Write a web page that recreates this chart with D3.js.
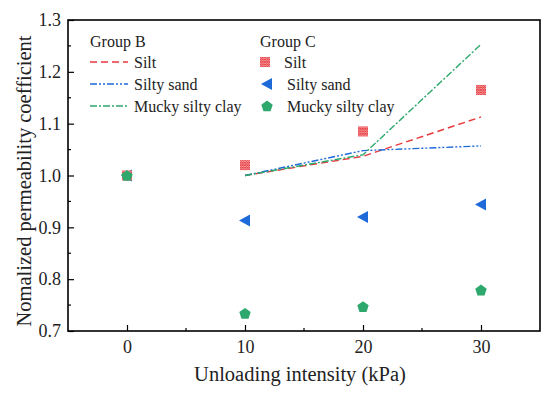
<!DOCTYPE html>
<html>
<head>
<meta charset="utf-8">
<script src="https://cdn.jsdelivr.net/npm/d3@7"></script>
<style>
body { margin: 0; background: #fff; }
svg text { font-family: "Liberation Serif", "DejaVu Serif", serif; fill: #222; }
</style>
</head>
<body>
<svg id="chartsvg" width="550" height="395"></svg>
<script>
var vis = d3.select("#chartsvg");

// tick labels
const xTicks = [0, 10, 20, 30];
const yTicks = [0.7, 0.8, 0.9, 1.0, 1.1, 1.2, 1.3];

// Group B (lines)
const lineX = [10, 20, 30];
const bSilt = [1.0, 1.037, 1.113];
const bSand = [1.0, 1.048, 1.057];
const bClay = [1.0, 1.040, 1.253];

// Group C (points)
const pointX = [0, 10, 20, 30];
const cSilt = [1.0, 1.020, 1.085, 1.165];
const cSand = [1.0, 0.913, 0.920, 0.944];
const cClay = [1.0, 0.734, 0.747, 0.779];

const red = "#e8393f", blue = "#1e6ad8", green = "#2ea86c";

const m = {left: 68, right: 540, top: 20, bottom: 331};

var x = d3.scaleLinear().domain([-5, 35]).range([m.left, m.right]);
var y = d3.scaleLinear().domain([0.7, 1.3]).range([m.bottom, m.top]);

// cross-hatch pattern for silt marker
var pat = vis.append("defs").append("pattern")
    .attr("id", "hatch").attr("patternUnits", "userSpaceOnUse")
    .attr("width", 2.5).attr("height", 2.5);
pat.append("rect").attr("width", 2.5).attr("height", 2.5).attr("fill", "#fbdcdc");
pat.append("path").attr("d", "M0,0L2.5,2.5M2.5,0L0,2.5").attr("stroke", red).attr("stroke-width", 0.9);

// axes (ticks inside)
var xAxis = d3.axisBottom(x).tickValues(xTicks).tickSizeInner(-6).tickSizeOuter(0).tickPadding(9);
var yAxis = d3.axisLeft(y).tickValues(yTicks).tickSizeInner(-6).tickSizeOuter(0).tickPadding(7)
    .tickFormat(d3.format(".1f"));

var gx = vis.append("g").attr("transform", `translate(0,${m.bottom})`).call(xAxis);
var gy = vis.append("g").attr("transform", `translate(${m.left},0)`).call(yAxis);
[gx, gy].forEach(g => {
    g.select(".domain").remove();
    g.selectAll("line").attr("stroke", "#000").attr("stroke-width", 1.2);
    g.selectAll("text").attr("font-size", 18).attr("fill", "#222")
        .style("font-family", '"Liberation Serif", serif');
});

// minor ticks
vis.append("g").selectAll("line").data([5, 15, 25])
    .enter().append("line")
    .attr("x1", d => x(d)).attr("x2", d => x(d))
    .attr("y1", m.bottom).attr("y2", m.bottom - 3)
    .attr("stroke", "#000").attr("stroke-width", 1.2);
vis.append("g").selectAll("line").data([0.75, 0.85, 0.95, 1.05, 1.15, 1.25])
    .enter().append("line")
    .attr("x1", m.left).attr("x2", m.left + 3)
    .attr("y1", d => y(d)).attr("y2", d => y(d))
    .attr("stroke", "#000").attr("stroke-width", 1.2);

// frame
vis.append("rect").attr("x", m.left).attr("y", m.top)
    .attr("width", m.right - m.left).attr("height", m.bottom - m.top)
    .attr("fill", "none").attr("stroke", "#000").attr("stroke-width", 1.6);

// lines
var line = d3.line().x(d => x(d[0])).y(d => y(d[1]));
var lineSeries = [
    {vals: bSilt, color: red, dash: "7,4"},
    {vals: bSand, color: blue, dash: "7,2,2,2,2,2"},
    {vals: bClay, color: green, dash: "7,2,2,2"}
];
lineSeries.forEach(s => {
    vis.append("path").datum(lineX.map((d, i) => [d, s.vals[i]]))
        .attr("d", line).attr("fill", "none")
        .attr("stroke", s.color).attr("stroke-width", 1.4)
        .attr("stroke-dasharray", s.dash);
});

// marker shapes
function silt(g) {
    g.append("rect").attr("x", -5).attr("y", -5).attr("width", 10).attr("height", 10)
        .attr("fill", "url(#hatch)");
}
function tri(g) {
    g.append("path").attr("d", "M-6,0L5,-6L5,6Z").attr("fill", blue);
}
function pentagon(g) {
    var pts = d3.range(5).map(i => {
        var a = -Math.PI / 2 + i * 2 * Math.PI / 5;
        return [6 * Math.cos(a), 6 * Math.sin(a) + 0.5];
    });
    g.append("polygon").attr("points", pts.join(" ")).attr("fill", green);
}

var pointSeries = [
    {vals: cSand, draw: tri},
    {vals: cSilt, draw: silt},
    {vals: cClay, draw: pentagon}
];
pointSeries.forEach(s => {
    pointX.forEach((d, i) => {
        var g = vis.append("g").attr("transform", `translate(${x(d)},${y(s.vals[i])})`);
        s.draw(g);
    });
});

// legend
var lg = vis.append("g");
lg.append("text").attr("x", 90).attr("y", 47).attr("font-size", 16).text("Group B");
lg.append("text").attr("x", 260).attr("y", 47).attr("font-size", 16).text("Group C");
var legendNames = ["Silt", "Silty sand", "Mucky silty clay"];
var legendMarkers = [silt, tri, pentagon];
legendNames.forEach((n, i) => {
    var yy = 62 + i * 22;
    lg.append("line").attr("x1", 90).attr("x2", 128).attr("y1", yy).attr("y2", yy)
        .attr("stroke", lineSeries[i].color).attr("stroke-width", 1.4)
        .attr("stroke-dasharray", lineSeries[i].dash);
    lg.append("text").attr("x", 134).attr("y", yy + 5.5).attr("font-size", 16).text(n);
    var g = lg.append("g").attr("transform", `translate(${i == 0 ? 265 : 267},${yy})`);
    legendMarkers[i](g);
    lg.append("text").attr("x", i == 0 ? 284 : 287).attr("y", yy + 5.5).attr("font-size", 16).text(n);
});

// axis titles
vis.append("text").attr("x", (m.left + m.right) / 2 - 4).attr("y", 381)
    .attr("text-anchor", "middle").attr("font-size", 20.5).text("Unloading intensity (kPa)");
vis.append("text").attr("transform", `translate(31,181) rotate(-90)`)
    .attr("text-anchor", "middle").attr("font-size", 20.5).text("Nomalized permeability coefficient");
</script>
</body>
</html>
